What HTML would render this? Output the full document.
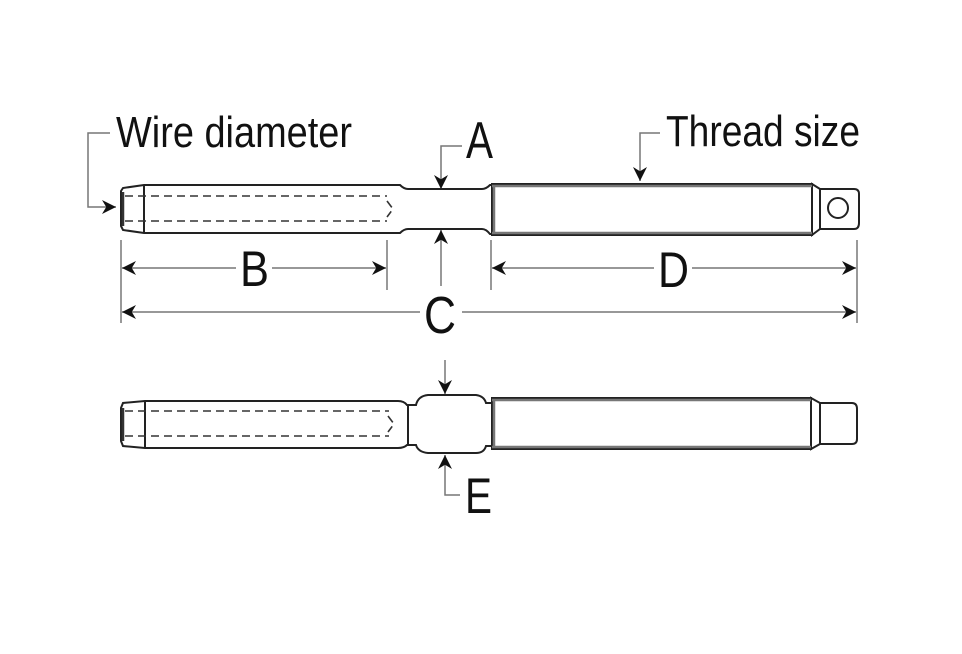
<!DOCTYPE html>
<html><head><meta charset="utf-8"><style>
html,body{margin:0;padding:0;background:#fff;width:962px;height:654px;overflow:hidden}
svg{display:block}
text{font-family:"Liberation Sans",sans-serif;fill:#111}
</style></head><body>
<svg width="962" height="654" viewBox="0 0 962 654" xmlns="http://www.w3.org/2000/svg">
<defs>
<marker id="ar" viewBox="0 0 10 10" refX="10" refY="5" markerWidth="14" markerHeight="14" markerUnits="userSpaceOnUse" orient="auto"><path d="M0,0 L10,5 L0,10 L3,5 z" fill="#111"/></marker>
</defs>

<!-- labels -->
<text x="116" y="147" font-size="44" textLength="236" lengthAdjust="spacingAndGlyphs">Wire diameter</text>
<text x="666" y="146" font-size="44" textLength="194" lengthAdjust="spacingAndGlyphs">Thread size</text>
<text x="466" y="158" font-size="52" textLength="27" lengthAdjust="spacingAndGlyphs">A</text>
<text x="240" y="286" font-size="50" textLength="29" lengthAdjust="spacingAndGlyphs">B</text>
<text x="424" y="333" font-size="52" textLength="32" lengthAdjust="spacingAndGlyphs">C</text>
<text x="658" y="287" font-size="50" textLength="31" lengthAdjust="spacingAndGlyphs">D</text>
<text x="465" y="513" font-size="50" textLength="27" lengthAdjust="spacingAndGlyphs">E</text>

<g stroke="#777" stroke-width="1.5" fill="none">
<!-- leaders -->
<polyline points="110,133 88,133 88,207 116,207" marker-end="url(#ar)"/>
<polyline points="660,133 640,133 640,181" marker-end="url(#ar)"/>
<polyline points="462,146 441,146 441,189" marker-end="url(#ar)"/>
<line x1="441" y1="286" x2="441" y2="230" marker-end="url(#ar)"/>
<!-- extension lines -->
<line x1="121" y1="240" x2="121" y2="323"/>
<line x1="387" y1="240" x2="387" y2="290"/>
<line x1="491" y1="240" x2="491" y2="290"/>
<line x1="857" y1="240" x2="857" y2="323"/>
<!-- dims -->
<line x1="236" y1="268" x2="122" y2="268" marker-end="url(#ar)"/>
<line x1="272" y1="268" x2="386" y2="268" marker-end="url(#ar)"/>
<line x1="654" y1="268" x2="492" y2="268" marker-end="url(#ar)"/>
<line x1="692" y1="268" x2="856" y2="268" marker-end="url(#ar)"/>
<line x1="420" y1="312" x2="122" y2="312" marker-end="url(#ar)"/>
<line x1="462" y1="312" x2="856" y2="312" marker-end="url(#ar)"/>
<!-- E leaders -->
<line x1="445" y1="360" x2="445" y2="394" marker-end="url(#ar)"/>
<polyline points="460,495 445,495 445,455" marker-end="url(#ar)"/>
</g>

<!-- TOP PART -->
<g stroke="#222" stroke-width="2" fill="#fff">
<path d="M144,185 L400,185 Q404,189 408,189 L482,189 Q486,189 490,185 L492,185 L492,234 L490,234 Q486,229 482,229 L408,229 Q404,229 400,233 L144,233 L123,230 L121,226 L121,191 L123,188 Z"/>
<line x1="144" y1="185" x2="144" y2="233"/>
<rect x="492" y="184" width="320" height="51" fill="#fff"/>
<path d="M812,184 L820,189 L854,189 Q859,189 859,194 L859,223 Q859,229 854,229 L820,229 L812,235 Z"/>
<line x1="820" y1="189" x2="820" y2="229"/>
<circle cx="838" cy="208" r="10"/>
</g>
<g stroke="#777" stroke-width="2.5">
<line x1="492" y1="186" x2="812" y2="186"/>
<line x1="492" y1="233" x2="812" y2="233"/>
<line x1="494" y1="185" x2="494" y2="234"/>
<line x1="123" y1="192" x2="123" y2="226" stroke="#333"/>
</g>
<g stroke="#333" stroke-width="1.6" stroke-dasharray="8,5" fill="none">
<line x1="125" y1="196" x2="387" y2="196"/>
<line x1="125" y1="221" x2="387" y2="221"/>
<polyline points="387,201 393,209 387,217"/>
</g>

<!-- BOTTOM PART -->
<g stroke="#222" stroke-width="2" fill="#fff">
<path d="M145,401 L398,401 Q404,401 407,405 L408,405 L416,405 Q418,396 428,395 L476,395 Q484,396 486,403 L492,403 L492,446 L486,446 Q484,453 476,453 L428,453 Q418,452 416,445 L407,445 Q404,448 398,448 L145,448 L123,446 L121,441 L121,408 L123,403 Z"/>
<line x1="145" y1="401" x2="145" y2="448"/>
<line x1="408" y1="405" x2="408" y2="445"/>
<rect x="492" y="398" width="319" height="51"/>
<path d="M811,398 L820,403 L852,403 Q857,403 857,409 L857,439 Q857,444 852,444 L820,444 L811,449 Z"/>
<line x1="820" y1="403" x2="820" y2="444"/>
</g>
<g stroke="#777" stroke-width="2.5">
<line x1="492" y1="400" x2="811" y2="400"/>
<line x1="492" y1="447" x2="811" y2="447"/>
<line x1="494" y1="399" x2="494" y2="448"/>
<line x1="123" y1="408" x2="123" y2="441" stroke="#333"/>
</g>
<g stroke="#333" stroke-width="1.6" stroke-dasharray="8,5" fill="none">
<line x1="125" y1="411" x2="389" y2="411"/>
<line x1="125" y1="436" x2="389" y2="436"/>
<polyline points="388,416 394,424 388,432"/>
</g>
</svg>
</body></html>
